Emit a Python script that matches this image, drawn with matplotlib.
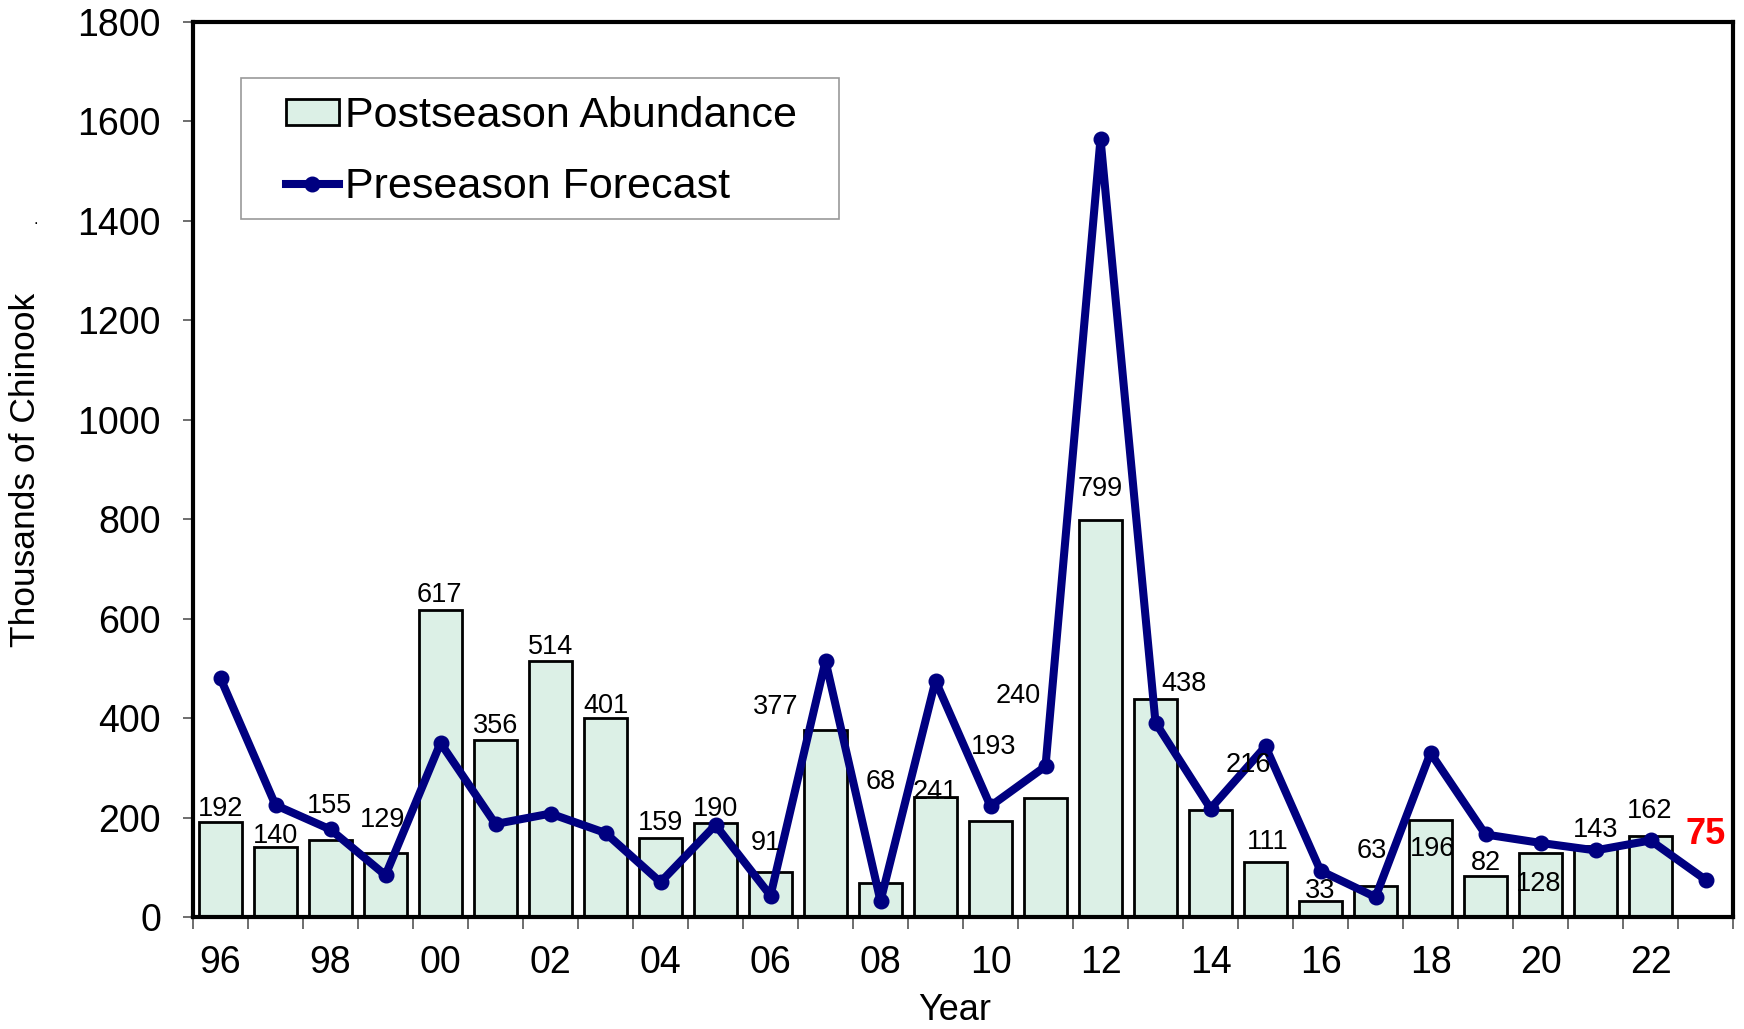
import matplotlib
matplotlib.use("Agg")
import matplotlib.pyplot as plt
from matplotlib.patches import Rectangle

# ---- data ----
years = list(range(1996, 2024))
abundance = [192, 140, 155, 129, 617, 356, 514, 401, 159, 190, 91, 377, 68, 241,
             193, 240, 799, 438, 216, 111, 33, 63, 196, 82, 128, 143, 162]
forecast = [480, 225, 176, 84, 350, 187, 208, 169, 70, 185, 43, 515, 32, 475,
            223, 303, 1565, 391, 218, 343, 93, 40, 330, 166, 149, 134, 154, 75]
tick_labels = ["96", "98", "00", "02", "04", "06", "08", "10", "12", "14",
               "16", "18", "20", "22"]

# label offsets (pixels) relative to bar top
label_dx = [0, 0, -1, -3, -1, 0, 0, 0, 0, 0, -5, -50, 0, 0, 3, -27, 0, 28, 38, 2,
            0, -4, 2, 0, -2, 0, -1]
label_dy = [13, 11.5, 34, 33, 15.5, 14, 14, 12, 15, 14, 29, 23, 101, 5, 74, 102,
            31, 15, 45, 20, 10, 35, -29, 13, -31, 16, 25]

plt.rcParams['font.family'] = ['Liberation Sans', 'DejaVu Sans']

fig = plt.figure(figsize=(17.44, 10.29), dpi=100)
L, R, B, T = 193 / 1744, 1733 / 1744, 1 - 917 / 1029, 1 - 22 / 1029
ax = fig.add_axes([L, B, R - L, T - B])

xs = list(range(len(years)))
bar_color = "#DCF0E6"
line_color = "#000080"

bars = ax.bar(xs[:len(abundance)], abundance, width=0.77, color=bar_color,
              edgecolor="black", linewidth=2.0, zorder=2, label="Postseason Abundance")
line, = ax.plot(xs, forecast, color=line_color, linewidth=5.8, marker="o",
                markersize=10.5, zorder=3, label="Preseason Forecast")

px = 72 / 100.0
for i, v in enumerate(abundance):
    ax.annotate(str(v), xy=(xs[i], v), xytext=(label_dx[i] * px, label_dy[i] * px),
                textcoords="offset points", ha="center", va="center",
                fontsize=19.5, color="black", zorder=4)
ax.annotate(str(forecast[-1]), xy=(xs[-1], forecast[-1]), xytext=(0, 45 * px),
            textcoords="offset points", ha="center", va="center",
            fontsize=26, fontweight="bold", color="#FF0000", zorder=4)

ax.set_xlim(-0.5, len(years) - 0.5)
ax.set_ylim(0, 1800)
ax.set_yticks(range(0, 1801, 200))

# x ticks: marks between categories, labels on even years
ax.set_xticks([x - 0.5 for x in range(len(years) + 1)])
ax.set_xticklabels([])
ax.set_xticks(xs[::2], minor=True)
ax.set_xticklabels(tick_labels, minor=True)
ax.tick_params(axis="x", which="major", direction="out", length=8.5, width=1.2,
               color="#555555")
ax.tick_params(axis="x", which="minor", length=0, pad=20, labelsize=27)
ax.tick_params(axis="y", direction="out", length=7, width=1.2, color="#555555",
               pad=16, labelsize=27)

for s in ax.spines.values():
    s.set_linewidth(3)
    s.set_color("black")

ax.set_xlabel("Year", fontsize=26, va="center")
ax.xaxis.set_label_coords((955 - 193) / 1540, (917 - 1010) / 895)
ax.set_ylabel("Thousands of Chinook", fontsize=25.5, va="center")
ax.yaxis.set_label_coords((26 - 193) / 1540, 0.5)

# legend frame and legend
ax.add_patch(Rectangle(((241 - 193) / 1540, (917 - 219) / 895),
                       (839 - 241) / 1540, (219 - 78) / 895,
                       transform=ax.transAxes, facecolor="white",
                       edgecolor="#999999", linewidth=1.2, zorder=5))
leg = ax.legend(handles=[bars, line],
                labels=["Postseason Abundance", "Preseason Forecast"],
                loc="center left",
                bbox_to_anchor=((286 - 193) / 1540, (917 - 151.5) / 895),
                frameon=False, fontsize=31, handlelength=1.23, handleheight=0.55,
                handletextpad=0.15, labelspacing=0.72, borderpad=0,
                borderaxespad=0, numpoints=1)
leg.set_zorder(6)

fig.text(36 / 1744, 1 - 220 / 1029, ".", fontsize=12, ha="center", va="center")

fig.savefig("out.png", dpi=100)
